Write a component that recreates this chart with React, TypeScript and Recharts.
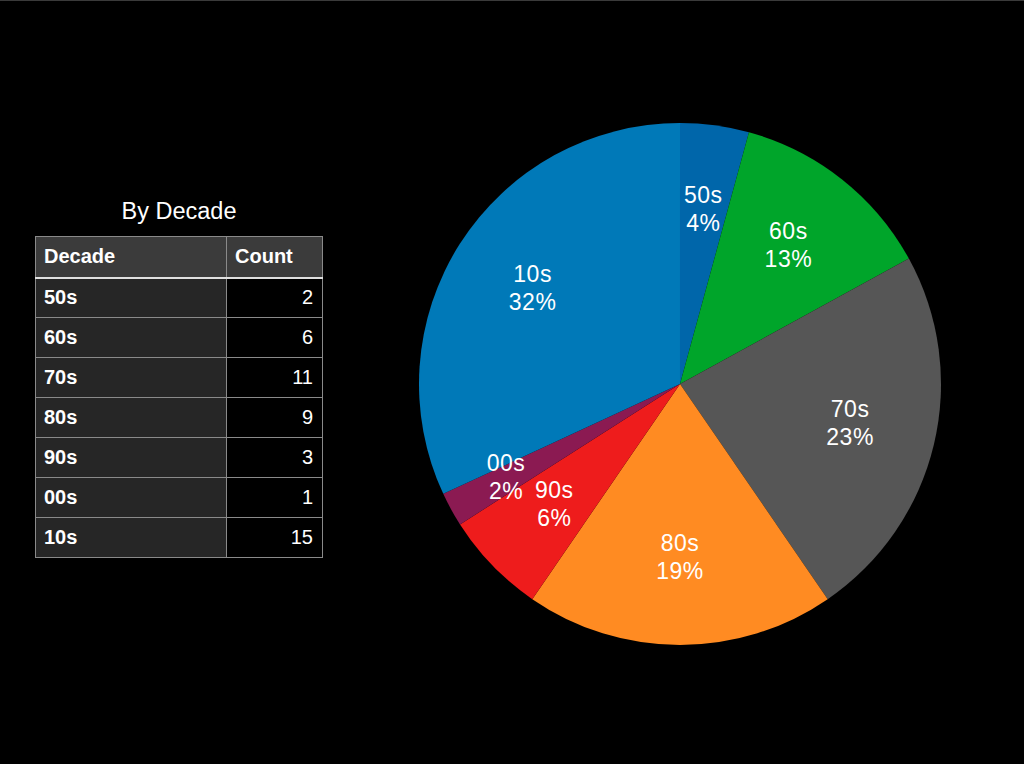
import { PieChart, Pie, Cell } from 'recharts';

const decades = ['50s', '60s', '70s', '80s', '90s', '00s', '10s'];
const counts = [2, 6, 11, 9, 3, 1, 15];
const sliceColors = ['#0066aa', '#00a52a', '#565656', '#ff8b22', '#ee1c1c', '#8b1a52', '#0079b8'];

const data = decades.map((name, i) => ({ name, value: counts[i] }));

const FONT = '"Liberation Sans", Arial, Helvetica, sans-serif';
const RAD = Math.PI / 180;

function renderLabel(props: any) {
  const { cx, cy, midAngle, outerRadius, percent, name } = props;
  // 00s is a thin slice, its label sits a bit further out
  const factor = name === '00s' ? 0.76 : 0.67;
  const r = outerRadius * factor;
  const x = cx + r * Math.cos(-midAngle * RAD);
  const y = cy + r * Math.sin(-midAngle * RAD);
  return (
    <text x={x} y={y} fill="#fff" textAnchor="middle" fontFamily={FONT} fontSize={23} letterSpacing={0.5}>
      <tspan x={x} dy={-8}>{name}</tspan>
      <tspan x={x} dy={28}>{Math.round(percent * 100) + '%'}</tspan>
    </text>
  );
}

const cellBorder = '1px solid #8a8a8a';
const headBottom = '2px solid #e0e0e0';

export default function App() {
  return (
    <div
      style={{
        position: 'fixed',
        left: 0,
        top: 0,
        width: 1024,
        height: 764,
        background: '#000',
        borderTop: '1px solid #3a3a3a',
        boxSizing: 'border-box',
        overflow: 'hidden',
      }}
    >
      <div style={{ position: 'absolute', left: 0, top: 0 }}>
        <PieChart width={1024} height={764} margin={{ top: 0, right: 0, bottom: 0, left: 0 }}>
          <Pie
            data={data}
            dataKey="value"
            nameKey="name"
            cx={680}
            cy={383}
            outerRadius={261}
            startAngle={90}
            endAngle={-270}
            stroke="none"
            label={renderLabel}
            labelLine={false}
            isAnimationActive={false}
          >
            {data.map((d, i) => (
              <Cell key={d.name} fill={sliceColors[i]} />
            ))}
          </Pie>
        </PieChart>
      </div>

      <div
        style={{
          position: 'absolute',
          left: 35,
          top: 196,
          width: 288,
          textAlign: 'center',
          color: '#fff',
          fontFamily: FONT,
          fontSize: 23.5,
          lineHeight: '28px',
        }}
      >
        By Decade
      </div>

      <table
        style={{
          position: 'absolute',
          left: 35,
          top: 235,
          width: 288,
          borderCollapse: 'collapse',
          fontFamily: FONT,
          fontSize: 20,
          fontWeight: 'bold',
          color: '#fff',
          tableLayout: 'fixed',
        }}
      >
        <thead>
          <tr style={{ height: 41, background: '#3b3b3b' }}>
            <th style={{ width: 174, textAlign: 'left', padding: '0 8px', border: cellBorder, borderBottom: headBottom }}>Decade</th>
            <th style={{ textAlign: 'left', padding: '0 8px', border: cellBorder, borderBottom: headBottom }}>Count</th>
          </tr>
        </thead>
        <tbody>
          {decades.map((d, i) => (
            <tr key={d} style={{ height: 40 }}>
              <td style={{ background: '#262626', padding: '0 8px', border: cellBorder }}>{d}</td>
              <td
                style={{
                  background: '#000',
                  textAlign: 'right',
                  padding: '0 9px',
                  border: cellBorder,
                  borderLeft: '1px solid #d0d0d0',
                  fontWeight: 'normal',
                  fontSize: 20,
                }}
              >
                {counts[i]}
              </td>
            </tr>
          ))}
        </tbody>
      </table>
    </div>
  );
}
